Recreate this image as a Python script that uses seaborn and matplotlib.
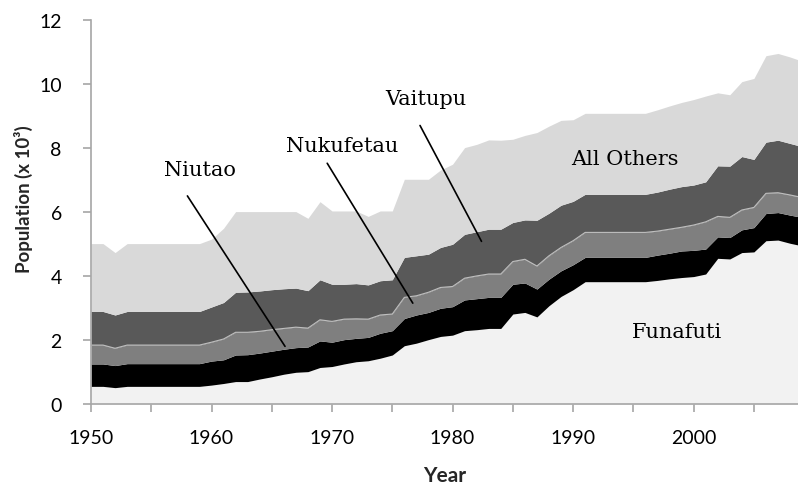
import matplotlib
matplotlib.use("Agg")
import matplotlib.pyplot as plt
import seaborn as sns
import numpy as np
import pandas as pd
from matplotlib.ticker import MultipleLocator

# population in thousands
years = list(range(1950, 2010))

funafuti = [0.55, 0.55, 0.51, 0.55, 0.55, 0.55, 0.55, 0.55, 0.55, 0.55,
            0.59, 0.64, 0.70, 0.70, 0.78, 0.85, 0.93, 0.99, 1.01, 1.14,
            1.17, 1.25, 1.32, 1.35, 1.43, 1.53, 1.82, 1.90, 2.01, 2.11,
            2.15, 2.29, 2.32, 2.36, 2.36, 2.81, 2.86, 2.72, 3.07, 3.36,
            3.57, 3.82, 3.82, 3.82, 3.82, 3.82, 3.82, 3.86, 3.91, 3.95,
            3.98, 4.06, 4.55, 4.53, 4.73, 4.75, 5.10, 5.12, 5.02, 4.94]
niutao = [0.70, 0.70, 0.69, 0.71, 0.71, 0.71, 0.71, 0.71, 0.71, 0.71,
          0.75, 0.74, 0.83, 0.84, 0.81, 0.80, 0.78, 0.77, 0.77, 0.83,
          0.76, 0.76, 0.73, 0.73, 0.78, 0.76, 0.85, 0.88, 0.85, 0.88,
          0.89, 0.96, 0.97, 0.97, 0.97, 0.93, 0.92, 0.87, 0.83, 0.80,
          0.78, 0.76, 0.76, 0.76, 0.76, 0.76, 0.76, 0.79, 0.80, 0.83,
          0.82, 0.78, 0.67, 0.67, 0.71, 0.76, 0.85, 0.86, 0.88, 0.89]
nukufetau = [0.59, 0.59, 0.54, 0.58, 0.58, 0.58, 0.58, 0.58, 0.58, 0.58,
             0.59, 0.65, 0.71, 0.70, 0.68, 0.67, 0.65, 0.64, 0.59, 0.66,
             0.65, 0.64, 0.61, 0.57, 0.57, 0.52, 0.66, 0.60, 0.63, 0.65,
             0.63, 0.68, 0.71, 0.73, 0.73, 0.71, 0.74, 0.72, 0.73, 0.73,
             0.75, 0.78, 0.78, 0.78, 0.78, 0.78, 0.78, 0.75, 0.75, 0.74,
             0.79, 0.85, 0.64, 0.63, 0.62, 0.63, 0.63, 0.62, 0.63, 0.62]
vaitupu = [1.05, 1.05, 1.04, 1.05, 1.05, 1.05, 1.05, 1.05, 1.05, 1.05,
           1.10, 1.14, 1.25, 1.26, 1.26, 1.25, 1.24, 1.22, 1.17, 1.25,
           1.16, 1.09, 1.10, 1.07, 1.07, 1.07, 1.25, 1.25, 1.19, 1.25,
           1.32, 1.37, 1.38, 1.40, 1.40, 1.22, 1.23, 1.43, 1.33, 1.32,
           1.23, 1.19, 1.19, 1.19, 1.19, 1.19, 1.19, 1.22, 1.25, 1.27,
           1.25, 1.25, 1.58, 1.60, 1.67, 1.50, 1.60, 1.64, 1.61, 1.59]
all_others = [2.12, 2.12, 1.95, 2.12, 2.12, 2.12, 2.12, 2.12, 2.12, 2.12,
              2.12, 2.32, 2.52, 2.51, 2.48, 2.44, 2.41, 2.39, 2.26, 2.44,
              2.29, 2.29, 2.27, 2.14, 2.18, 2.15, 2.44, 2.39, 2.34, 2.42,
              2.50, 2.71, 2.73, 2.79, 2.78, 2.60, 2.64, 2.74, 2.72, 2.65,
              2.55, 2.53, 2.53, 2.53, 2.53, 2.53, 2.53, 2.57, 2.60, 2.63,
              2.67, 2.68, 2.28, 2.23, 2.34, 2.53, 2.70, 2.71, 2.70, 2.67]

layers = ["Funafuti", "Niutao", "Nukufetau", "Vaitupu", "All Others"]
colors = ["#f2f2f2", "#000000", "#7f7f7f", "#595959", "#d9d9d9"]

df = pd.DataFrame({"Year": years, "Funafuti": funafuti, "Niutao": niutao,
                   "Nukufetau": nukufetau, "Vaitupu": vaitupu,
                   "All Others": all_others})

sns.set_theme(style="white")
plt.rcParams["font.family"] = ["Lato", "DejaVu Sans"]

fig = plt.figure(figsize=(7.98, 4.85), dpi=100)
ax = fig.add_axes([0.114, 0.165, 0.886, 0.792])

ax.stackplot(df["Year"], *[df[c] for c in layers], colors=colors, linewidth=0)

# thin light seam on top of the Nukufetau band
seam = df[["Funafuti", "Niutao", "Nukufetau"]].sum(axis=1)
sns.lineplot(x=df["Year"], y=seam, ax=ax, color="#bfbfbf", linewidth=0.8)

ax.set_xlim(1950, 2008.66)
ax.set_ylim(0, 12)
ax.xaxis.set_major_locator(MultipleLocator(10))
ax.xaxis.set_minor_locator(MultipleLocator(5))
ax.yaxis.set_major_locator(MultipleLocator(2))

for s in ["top", "right"]:
    ax.spines[s].set_visible(False)
for s in ["left", "bottom"]:
    ax.spines[s].set_color("#a6a6a6")
    ax.spines[s].set_linewidth(1.2)

ax.tick_params(axis="both", which="both", direction="out", length=6,
               width=1.2, color="#a6a6a6", labelsize=14, labelcolor="#000000")
ax.tick_params(axis="x", which="both", bottom=True, pad=12)
ax.tick_params(axis="y", left=True, pad=15)

ax.set_xlabel("Year", fontsize=15, fontweight="bold", labelpad=14)
ax.set_ylabel("Population (x 10³)", fontsize=13.5, fontweight="bold")
ax.yaxis.set_label_coords(-0.082, 0.536)

serif = dict(family="DejaVu Serif", fontsize=15, color="#000000",
             ha="center", va="center")
ax.text(1994.3, 7.66, "All Others", **serif)
ax.text(1998.6, 2.25, "Funafuti", **serif)
ax.text(1959.0, 7.31, "Niutao", **serif)
ax.text(1970.8, 8.09, "Nukufetau", **serif)
ax.text(1977.8, 9.53, "Vaitupu", **serif)

ax.plot([1958.0, 1966.1], [6.5, 1.8], color="black", lw=1.2)
ax.plot([1969.6, 1976.7], [7.52, 3.15], color="black", lw=1.2)
ax.plot([1977.3, 1982.4], [8.7, 5.08], color="black", lw=1.2)

fig.savefig("out.png", dpi=100)
